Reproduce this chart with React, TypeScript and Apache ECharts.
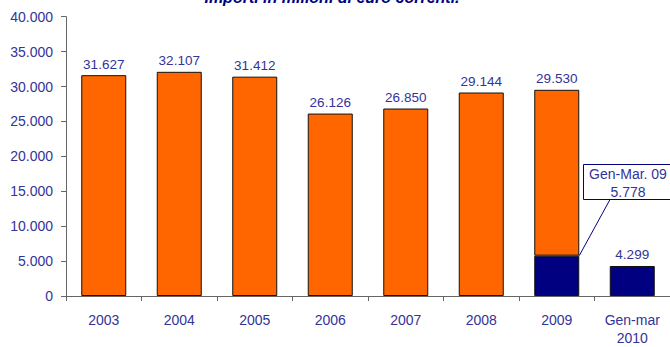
import React, { useEffect, useRef } from "react";
import * as echarts from "echarts";

const categories = ["2003", "2004", "2005", "2006", "2007", "2008", "2009", "Gen-mar\n2010"];
const totals: (number | null)[] = [31627, 32107, 31412, 26126, 26850, 29144, 29530, null];
const genMar: (number | null)[] = [null, null, null, null, null, null, 5778, 4299];
const titleText = "Importi in milioni di euro correnti.";
const calloutLabel = "Gen-Mar. 09";
const calloutIndex = 6;

const fmt = (n: number) => String(n).replace(/\B(?=(\d{3})+(?!\d))/g, ".");

const TEXT = "#333399";
const NAVY = "#000080";
const ORANGE = "#FF6600";
const FONT = "'Liberation Sans', Arial, sans-serif";

export default function App() {
  const ref = useRef<HTMLDivElement>(null);
  useEffect(() => {
    if (!ref.current) return;
    const chart = echarts.init(ref.current, undefined, { renderer: "svg" });
    const orangeData = totals.map((t, i) => (t == null ? null : t - (genMar[i] ?? 0)));
    const navyData = genMar.map((v, i) =>
      v == null
        ? null
        : {
            value: v,
            label: { show: totals[i] == null },
          }
    );
    chart.setOption({
      animation: false,
      textStyle: { fontFamily: FONT },
      grid: { left: 66, right: -2, top: 16.7, bottom: 44.5, containLabel: false },
      xAxis: {
        type: "category",
        data: categories,
        axisLine: { lineStyle: { color: "#666", width: 1 } },
        axisTick: { show: true, length: 5, lineStyle: { color: "#666" } },
        axisLabel: { color: TEXT, fontSize: 14, margin: 15, lineHeight: 18, fontFamily: FONT },
      },
      yAxis: {
        type: "value",
        min: 0,
        max: 40000,
        interval: 5000,
        splitLine: { show: false },
        axisLine: { show: true, lineStyle: { color: "#666", width: 1 } },
        axisTick: { show: true, length: 5, lineStyle: { color: "#666" } },
        axisLabel: { color: TEXT, fontSize: 14, margin: 13, fontFamily: FONT, formatter: (v: number) => fmt(v) },
      },
      series: [
        {
          type: "bar",
          stack: "a",
          data: navyData,
          barWidth: 45,
          itemStyle: { color: NAVY, borderColor: "#111", borderWidth: 1 },
          label: {
            show: false,
            position: "top",
            distance: 4,
            color: TEXT,
            fontSize: 13.5,
            fontFamily: FONT,
            formatter: (p: any) => fmt(p.value),
          },
        },
        {
          type: "bar",
          stack: "a",
          data: orangeData,
          barWidth: 45,
          itemStyle: { color: ORANGE, borderColor: "#111", borderWidth: 1 },
          label: {
            show: true,
            position: "top",
            distance: 4,
            color: TEXT,
            fontSize: 13.5,
            fontFamily: FONT,
            formatter: (p: any) => fmt(totals[p.dataIndex] as number),
          },
        },
      ],
    });

    const pt = chart.convertToPixel({ gridIndex: 0 }, [calloutIndex, genMar[calloutIndex] as number]) as number[];
    const barRight = pt[0] + 22.5;
    chart.setOption({
      graphic: [
        {
          type: "text",
          x: 332,
          y: 5,
          style: {
            text: titleText,
            fill: NAVY,
            font: `italic bold 16px ${FONT}`,
            textAlign: "center",
            textVerticalAlign: "bottom",
          },
        },
        {
          type: "line",
          shape: { x1: 610, y1: 199.5, x2: barRight, y2: pt[1] },
          style: { stroke: NAVY, lineWidth: 1 },
        },
        {
          type: "rect",
          shape: { x: 583.5, y: 164.5, width: 90, height: 35 },
          style: { fill: "#fff", stroke: NAVY, lineWidth: 1 },
        },
        {
          type: "text",
          x: 628,
          y: 173.5,
          style: {
            text: calloutLabel,
            fill: TEXT,
            font: `14px ${FONT}`,
            textAlign: "center",
            textVerticalAlign: "middle",
          },
        },
        {
          type: "text",
          x: 628,
          y: 191.5,
          style: {
            text: fmt(genMar[calloutIndex] as number),
            fill: TEXT,
            font: `14px ${FONT}`,
            textAlign: "center",
            textVerticalAlign: "middle",
          },
        },
      ],
    });
    return () => chart.dispose();
  }, []);
  return (
    <div
      ref={ref}
      style={{ position: "fixed", left: 0, top: 0, width: 670, height: 347, background: "#fff" }}
    />
  );
}
